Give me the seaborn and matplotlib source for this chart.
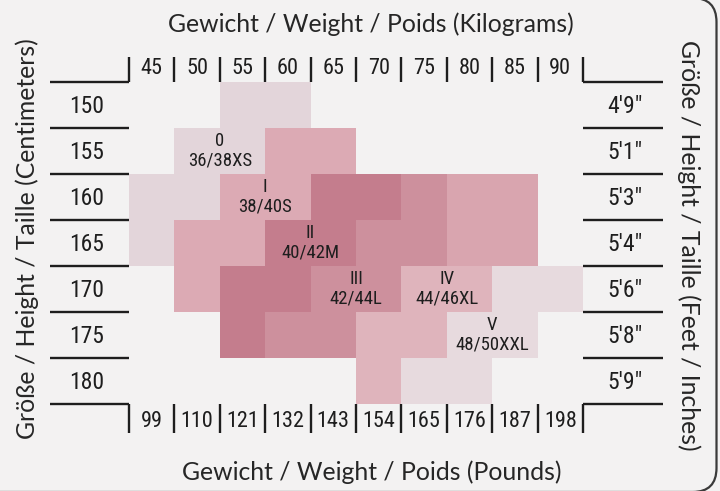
import numpy as np
import pandas as pd
import matplotlib
matplotlib.use("Agg")
import matplotlib.pyplot as plt
from matplotlib.colors import ListedColormap
from matplotlib.patches import FancyBboxPatch
from matplotlib import font_manager
import seaborn as sns

# ---------------- data ----------------
kg_labels = ["45", "50", "55", "60", "65", "70", "75", "80", "85", "90"]
lb_labels = ["99", "110", "121", "132", "143", "154", "165", "176", "187", "198"]
cm_labels = ["150", "155", "160", "165", "170", "175", "180"]
ft_labels = ["4\u20329\u2033", "5\u20321\u2033", "5\u20323\u2033", "5\u20324\u2033",
             "5\u20326\u2033", "5\u20328\u2033", "5\u20329\u2033"]

N = np.nan
# tone index per cell (rows = heights, columns = weights)
tone_grid = [
    [N, N, 0, 0, N, N, N, N, N, N],
    [N, 0, 0, 1, 1, N, N, N, N, N],
    [0, 0, 1, 1, 2, 2, 3, 4, 4, N],
    [0, 1, 1, 2, 2, 3, 3, 4, 4, N],
    [N, 1, 2, 2, 3, 3, 5, 5, 6, 6],
    [N, N, 2, 3, 3, 5, 5, 6, 6, N],
    [N, N, N, N, N, 5, 6, 6, N, N],
]
tone_colors = ["#e3d5da", "#dcaab4", "#c47d8d", "#cd909d", "#d9a5af", "#dfb4bc", "#e7dade"]

size_names = ["0", "I", "II", "III", "IV", "V"]
size_codes = ["36/38XS", "38/40S", "40/42M", "42/44L", "44/46XL", "48/50XXL"]
size_label_row = [1, 2, 3, 4, 4, 5]
size_label_col = [2, 3, 4, 5, 7, 8]

title_top = "Gewicht / Weight / Poids (Kilograms)"
title_bottom = "Gewicht / Weight / Poids (Pounds)"
title_left = "Größe / Height / Taille (Centimeters)"
title_right = "Größe / Height / Taille (Feet / Inches)"

# ---------------- fonts ----------------
def find_narrow():
    prefs = ["Liberation Sans Narrow", "Roboto Condensed", "Open Sans Condensed",
             "Noto Sans", "DejaVu Sans", "Roboto", "Open Sans", "Liberation Sans", "Arimo"]
    cands = []
    for f in font_manager.fontManager.ttflist:
        st = str(f.stretch).lower()
        nm = f.name.lower()
        narrowish = ("narrow" in nm or "condensed" in nm or
                     st in ("condensed", "semi-condensed", "extra-condensed") or
                     (isinstance(f.stretch, (int, float)) and f.stretch < 500))
        if narrowish and f.style == "normal" and str(f.weight) in ("400", "normal", "regular", "book"):
            rank = prefs.index(f.name) if f.name in prefs else len(prefs)
            cands.append((rank, f.fname))
    if cands:
        cands.sort()
        return font_manager.FontProperties(fname=cands[0][1]), True
    return font_manager.FontProperties(family=["Liberation Sans", "DejaVu Sans"]), False

num_fp, is_narrow = find_narrow()
scale = 1.0 if is_narrow else 0.9
title_font = ["Lato", "DejaVu Sans"]

BG = "#f3f2f2"
INK = "#1e1e1e"

W, H = 720, 491
fig = plt.figure(figsize=(W / 100, H / 100), dpi=100, facecolor=BG)

bg = fig.add_axes([0, 0, 1, 1], zorder=0)
bg.set_xlim(0, W)
bg.set_ylim(H, 0)
bg.axis("off")
bg.add_patch(FancyBboxPatch((-40, -2), 756.5, 494, boxstyle="round,pad=0,rounding_size=24",
                            fill=False, ec="#3a3a3a", lw=1.6))

gx0, gy0, gw, gh = 129, 82, 454, 322
ax = fig.add_axes([gx0 / W, 1 - (gy0 + gh) / H, gw / W, gh / H], zorder=2)
df = pd.DataFrame(tone_grid, index=cm_labels, columns=kg_labels)
sns.heatmap(df, ax=ax, cmap=ListedColormap(tone_colors), vmin=-0.5, vmax=len(tone_colors) - 0.5,
            cbar=False, xticklabels=False, yticklabels=False, linewidths=0)
ax.set_facecolor("none")
ax.set_xlabel("")
ax.set_ylabel("")
ax.tick_params(length=0)

ncol, nrow = len(kg_labels), len(cm_labels)
ux, uy = gw / ncol, gh / nrow
left_x = -(gx0 - 50) / ux
right_x = ncol + (663 - gx0 - gw) / ux
lk = dict(color=INK, lw=1.7, clip_on=False, solid_capstyle="butt")

for j in range(nrow + 1):
    ax.plot([left_x, 0], [j, j], **lk)
    ax.plot([ncol, right_x], [j, j], **lk)
for i in range(ncol + 1):
    ax.plot([i, i], [-0.54, 0], **lk)
    ax.plot([i, i], [nrow, nrow + 0.62], **lk)

def ntext(x, y, s, size):
    fp = num_fp.copy()
    fp.set_size(size * scale)
    ax.text(x, y, s, ha="center", va="center", fontproperties=fp, color=INK)

for i, (kg, lb) in enumerate(zip(kg_labels, lb_labels)):
    ntext(i + 0.5, -0.29, kg, 16)
    ntext(i + 0.5, nrow + 0.39, lb, 16)
for j, (cm, ft) in enumerate(zip(cm_labels, ft_labels)):
    ntext(-(gx0 - 87) / ux, j + 0.53, cm, 17)
    ntext(ncol + (625 - gx0 - gw) / ux, j + 0.53, ft, 17)

for name, code, r, c in zip(size_names, size_codes, size_label_row, size_label_col):
    ntext(c, r + 0.5 - 0.22, name, 13.5)
    ntext(c, r + 0.5 + 0.21, code, 13.5)

tk = dict(family=title_font, color="#262626", fontsize=17.8, ha="center", va="center")
bg.text(371, 24, title_top, **tk)
bg.text(372, 472, title_bottom, **tk)
bg.text(27, 239, title_left, rotation=90, **tk)
bg.text(689, 245, title_right, rotation=-90, **tk)

fig.savefig("out.png", dpi=100, facecolor=BG)
